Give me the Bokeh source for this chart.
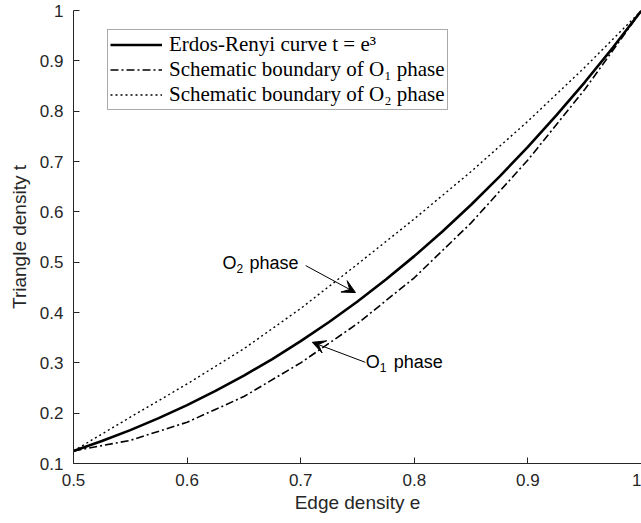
from bokeh.plotting import figure
from bokeh.models import Legend, LegendItem, Label, Arrow, VeeHead, FixedTicker
from bokeh.embed import file_html
from bokeh.resources import INLINE

# ---- data ----
edge_er = [0.500, 0.525, 0.550, 0.575, 0.600, 0.625, 0.650, 0.675, 0.700, 0.725,
           0.750, 0.775, 0.800, 0.825, 0.850, 0.875, 0.900, 0.925, 0.950, 0.975, 1.000]
tri_er = [0.125, 0.144703, 0.166375, 0.190109, 0.216, 0.244141, 0.274625, 0.307547,
          0.343, 0.381078, 0.421875, 0.465484, 0.512, 0.561516, 0.614125, 0.669922,
          0.729, 0.791453, 0.857375, 0.926859, 1.0]
edge_bd = [0.50, 0.55, 0.60, 0.65, 0.70, 0.75, 0.80, 0.85, 0.90, 0.95, 1.00]
tri_o1 = [0.125, 0.146, 0.182, 0.233, 0.300, 0.378, 0.469, 0.578, 0.703, 0.843, 1.0]
tri_o2 = [0.125, 0.192, 0.258, 0.328, 0.408, 0.496, 0.586, 0.680, 0.780, 0.887, 1.0]

xticks = [0.5, 0.6, 0.7, 0.8, 0.9, 1.0]
xtick_labels = ["0.5", "0.6", "0.7", "0.8", "0.9", "1"]
yticks = [0.1, 0.2, 0.3, 0.4, 0.5, 0.6, 0.7, 0.8, 0.9, 1.0]
ytick_labels = ["0.1", "0.2", "0.3", "0.4", "0.5", "0.6", "0.7", "0.8", "0.9", "1"]

legend_labels = ["Erdos-Renyi curve t = e³",
                 "Schematic boundary of O₁ phase",
                 "Schematic boundary of O₂ phase"]

# annotation anchors (data units): text anchor, arrow tail, arrow tip
o2_text = (0.6311, 0.4992)
o2_arrow = (0.7044, 0.4932, 0.7482, 0.4396)
o1_text = (0.7572, 0.3024)
o1_arrow = (0.7569, 0.3010, 0.7102, 0.3408)

INK = "#262626"
SANS = "Liberation Sans"

p = figure(width=641, height=523, x_range=(0.5, 1.0), y_range=(0.1, 1.0),
           output_backend="svg", toolbar_location=None,
           min_border_left=73, min_border_right=0, min_border_top=10, min_border_bottom=60)
p.outline_line_color = None
p.grid.visible = False
p.background_fill_color = "white"

p.xaxis.ticker = FixedTicker(ticks=xticks)
p.xaxis.major_label_overrides = dict(zip(xticks, xtick_labels))
p.yaxis.ticker = FixedTicker(ticks=yticks)
p.yaxis.major_label_overrides = dict(zip(yticks, ytick_labels))

p.xaxis.axis_label = "Edge density e"
p.yaxis.axis_label = "Triangle density t"
for ax in (p.xaxis, p.yaxis):
    ax.axis_line_color = INK
    ax.major_tick_line_color = INK
    ax.minor_tick_line_color = None
    ax.major_tick_in = 6
    ax.major_tick_out = 0
    ax.major_label_text_font = SANS
    ax.major_label_text_font_size = "17px"
    ax.major_label_text_color = INK
    ax.axis_label_text_font = SANS
    ax.axis_label_text_font_size = "19px"
    ax.axis_label_text_font_style = "normal"
    ax.axis_label_text_color = INK
p.xaxis.major_label_standoff = 10
p.xaxis.axis_label_standoff = 3
p.yaxis.major_label_standoff = 10
p.yaxis.axis_label_standoff = 7

r_er = p.line(edge_er, tri_er, line_color="black", line_width=2.6)
r_o1 = p.line(edge_bd, tri_o1, line_color="black", line_width=1.6, line_dash="8 3 2 3")
r_o2 = p.line(edge_bd, tri_o2, line_color="black", line_width=1.4, line_dash="2 3")

legend = Legend(items=[LegendItem(label=legend_labels[0], renderers=[r_er]),
                       LegendItem(label=legend_labels[1], renderers=[r_o1]),
                       LegendItem(label=legend_labels[2], renderers=[r_o2])],
                location=(34, 353),
                label_text_font="Liberation Serif", label_text_font_size="21px",
                label_text_color="black",
                glyph_width=52, glyph_height=25, label_height=25, label_standoff=7,
                padding=2, spacing=0, margin=0,
                border_line_color="#555555", border_line_width=1,
                background_fill_color="white", background_fill_alpha=1)
p.add_layout(legend)

def phase_label(anchor, sub, sub_dx, phase_dx):
    x, y = anchor
    p.add_layout(Label(x=x, y=y, text="O", text_font=SANS, text_font_size="18px",
                       text_color="black", text_baseline="middle", text_align="left"))
    p.add_layout(Label(x=x, y=y, text=sub, text_font=SANS, text_font_size="12px",
                       text_color="black", text_baseline="middle", text_align="left",
                       x_offset=sub_dx, y_offset=-6))
    p.add_layout(Label(x=x, y=y, text="phase", text_font=SANS, text_font_size="18px",
                       text_color="black", text_baseline="middle", text_align="left",
                       x_offset=phase_dx))

phase_label(o2_text, "2", 14, 27)
phase_label(o1_text, "1", 14, 28)

for (xs, ys, xe, ye) in (o2_arrow, o1_arrow):
    p.add_layout(Arrow(end=VeeHead(size=13, fill_color="black", line_color="black"),
                       x_start=xs, y_start=ys, x_end=xe, y_end=ye,
                       line_color="black", line_width=1))

open("out.html", "w").write(file_html(p, INLINE))
